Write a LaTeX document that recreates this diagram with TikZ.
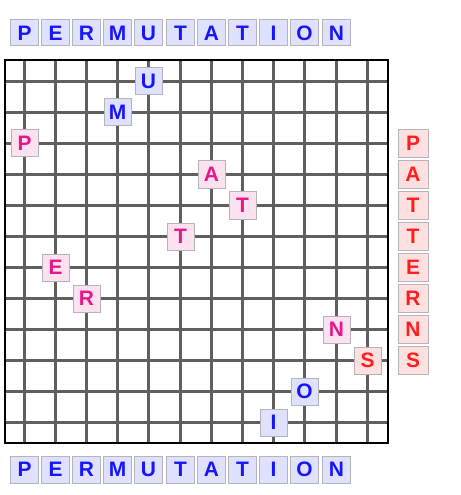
\documentclass[tikz,border=0pt]{standalone}
\usepackage{fontspec}
\setmainfont{Liberation Sans}
\definecolor{permfg}{RGB}{22,22,250}
\definecolor{permbg}{RGB}{224,224,255}
\definecolor{pattfg}{RGB}{255,30,30}
\definecolor{pattbg}{RGB}{255,224,224}
\definecolor{bothfg}{RGB}{232,22,140}
\definecolor{bothbg}{RGB}{252,226,238}
\definecolor{tileborder}{RGB}{180,180,185}
\definecolor{gridgray}{RGB}{95,95,95}
\def\colx{{24.5,55.5,86.5,117.5,148.5,180.5,211.5,242.5,273.5,304.5,336.5,367.5}}
\def\rowy{{81.5,112.5,143.5,174.5,205.5,236.5,267.5,298.5,329.5,360.5,391.5,422.5}}
\begin{document}
\begin{tikzpicture}[x=1bp,y=-1bp,
  tile/.style={draw=tileborder, line width=1bp, inner sep=0pt,
    minimum width=27bp, minimum height=27bp,
    font=\fontsize{21}{21}\selectfont\bfseries, text height=15pt, text depth=0pt},
  perm/.style={tile, fill=permbg, text=permfg},
  patt/.style={tile, fill=pattbg, text=pattfg},
  both/.style={tile, fill=bothbg, text=bothfg},
  gridline/.style={draw=gridgray, line width=2.8bp},
  frame/.style={draw=black, line width=2bp}]
\useasboundingbox (0,0) rectangle (461,495);
% grid
\foreach \i in {0,...,11} {
  \pgfmathsetmacro{\gx}{\colx[\i]}
  \pgfmathsetmacro{\gy}{\rowy[\i]}
  \draw[gridline] (\gx,60) -- (\gx,443);
  \draw[gridline] (5,\gy) -- (388,\gy);
}
\draw[frame] (5,60) rectangle (388,443);
% top and bottom words
\foreach \L [count=\i from 0] in {P,E,R,M,U,T,A,T,I,O,N} {
  \pgfmathsetmacro{\gx}{\colx[\i]}
  \node[perm, minimum width=28bp, minimum height=26bp] (top\i) at (\gx,33) {\L};
  \node[perm, minimum width=28bp, minimum height=27bp] (bot\i) at (\gx,469.5) {\L};
}
% right column
\foreach \L [count=\j from 2] in {P,A,T,T,E,R,N,S} {
  \pgfmathsetmacro{\gy}{\rowy[\j]}
  \node[patt, minimum width=30bp, minimum height=28bp] (right\j) at (413,\gy) {\L};
}
% letters in the grid
\foreach \L/\c/\r/\s in {P/0/2/both, E/1/6/both, R/2/7/both, M/3/1/perm,
    U/4/0/perm, T/5/5/both, A/6/3/both, T/7/4/both, I/8/11/perm,
    O/9/10/perm, N/10/8/both, S/11/9/patt} {
  \pgfmathsetmacro{\gx}{\colx[\c]}
  \pgfmathsetmacro{\gy}{\rowy[\r]}
  \node[\s] (g\c) at (\gx,\gy) {\L};
}
\end{tikzpicture}
\end{document}
